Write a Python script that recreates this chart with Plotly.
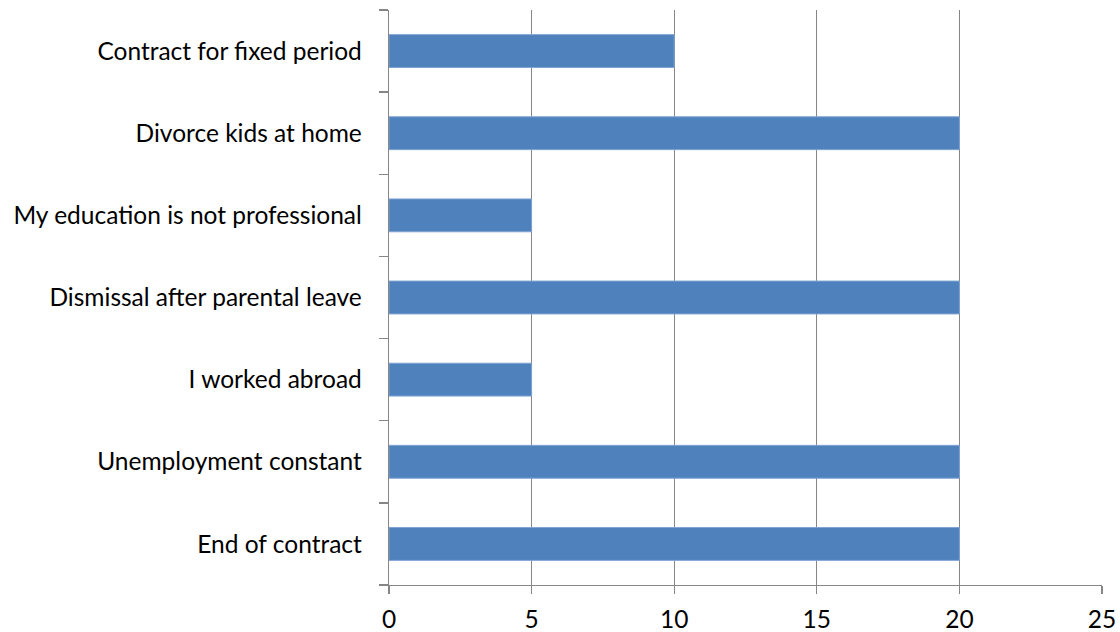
import plotly.graph_objects as go

categories = [
    "End of contract",
    "Unemployment constant",
    "I worked abroad",
    "Dismissal after parental leave",
    "My education is not professional",
    "Divorce kids at home",
    "Contract for fixed period",
]
values = [20, 20, 5, 20, 5, 20, 10]
x_ticks = [0, 5, 10, 15, 20, 25]

fig = go.Figure()
fig.add_trace(go.Bar(
    x=values, y=categories, orientation="h",
    marker=dict(color="#4F81BD", line=dict(color="#7FA3D3", width=1)),
    width=0.4,
    hoverinfo="skip",
))

fig.update_layout(
    width=1120, height=632,
    margin=dict(l=389, r=18, t=10, b=47, autoexpand=False),
    paper_bgcolor="white", plot_bgcolor="white",
    font=dict(family="Lato", size=24.5, color="black"),
    showlegend=False,
)
fig.update_xaxes(
    range=[0, 25], tickvals=x_ticks, ticktext=[str(v) for v in x_ticks],
    showgrid=True, gridcolor="#868686", gridwidth=1.3,
    showline=True, linecolor="#868686", linewidth=1.3,
    ticks="outside", ticklen=8, tickcolor="#868686", tickwidth=1.3,
    zeroline=False, ticklabelstandoff=4, fixedrange=True,
)
fig.update_yaxes(
    type="category", categoryorder="array", categoryarray=categories,
    range=[-0.5, len(categories) - 0.5],
    showgrid=False,
    showline=True, linecolor="#868686", linewidth=1.3,
    ticks="outside", ticklen=9, tickcolor="#868686", tickwidth=1.3,
    tickson="boundaries", ticklabelstandoff=21, fixedrange=True,
)

fig.write_html(
    "out.html",
    config={"displayModeBar": False, "staticPlot": True},
    post_script="document.body.style.margin='0';"
                "document.body.style.padding='0';"
                "document.documentElement.style.overflow='hidden';"
                "document.body.style.overflow='hidden';",
)
